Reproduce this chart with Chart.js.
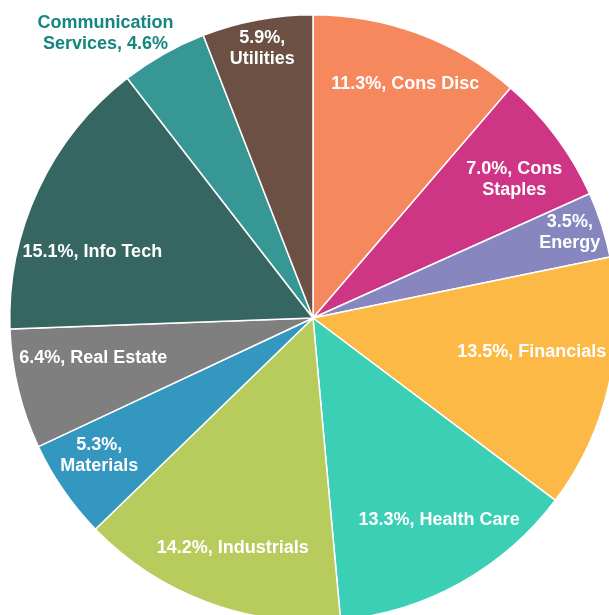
<!DOCTYPE html>
<html>
<head>
<meta charset="utf-8">
<script src="https://cdn.jsdelivr.net/npm/chart.js@4.4.1/dist/chart.umd.min.js"></script>
<style>
    html, body { margin: 0; padding: 0; background: #fff; overflow: hidden; }
    body { width: 609px; height: 615px; position: relative; }
    #wrap { position: absolute; left: 0; top: 0; width: 626px; height: 636px; }
</style>
</head>
<body>
<div id="wrap"><canvas id="sectorPie"></canvas></div>
<script>
    // sector weights, clockwise from 12 o'clock
    const sectors = ["Cons Disc", "Cons Staples", "Energy", "Financials", "Health Care", "Industrials",
        "Materials", "Real Estate", "Info Tech", "Communication Services", "Utilities"]
    const weights = [11.3, 7.0, 3.5, 13.5, 13.3, 14.2, 5.3, 6.4, 15.1, 4.6, 5.9]
    const sliceColors = ['#F5895D', '#CF3585', '#8886BE', '#FDB945', '#3BCFB6', '#B8CC5E',
        '#3497C0', '#7F7F7F', '#366661', '#369795', '#6D5044']

    // label text lines (as in the picture)
    const labelLines = [
        ["11.3%, Cons Disc"],
        ["7.0%, Cons", "Staples"],
        ["3.5%,", "Energy"],
        ["13.5%, Financials"],
        ["13.3%, Health Care"],
        ["14.2%, Industrials"],
        ["5.3%,", "Materials"],
        ["6.4%, Real Estate"],
        ["15.1%, Info Tech"],
        ["Communication", "Services, 4.6%"],
        ["5.9%,", "Utilities"]
    ]
    // nudges from the default spot (80% of the radius on the mid angle)
    const labelNudge = [[8, -6], [7, 7], [26, -11], [-18, -19], [8, -10], [4, 3],
        [-14, 0], [16, -17], [-1, 37], [-88, -73], [-6, -31]]
    const labelColor = ['#fff', '#fff', '#fff', '#fff', '#fff', '#fff', '#fff', '#fff', '#fff', '#13867E', '#fff']

    const sliceLabels = {
        id: 'sliceLabels',
        afterDatasetsDraw(chart) {
            const ctx = chart.ctx
            const arcs = chart.getDatasetMeta(0).data
            ctx.save()
            ctx.font = 'bold 18px "Liberation Sans", Arial, sans-serif'
            ctx.textAlign = 'center'
            ctx.textBaseline = 'middle'
            arcs.forEach((arc, i) => {
                const mid = (arc.startAngle + arc.endAngle) / 2
                const r = arc.outerRadius * 0.8
                const x = arc.x + Math.cos(mid) * r + labelNudge[i][0]
                const y = arc.y + Math.sin(mid) * r + labelNudge[i][1]
                const lines = labelLines[i]
                ctx.fillStyle = labelColor[i]
                lines.forEach((t, k) => {
                    ctx.fillText(t, x, y + (k - (lines.length - 1) / 2) * 21)
                })
            })
            ctx.restore()
        }
    }

    new Chart("sectorPie", {
        type: 'pie',
        data: {
            labels: sectors,
            datasets: [{
                data: weights,
                backgroundColor: sliceColors,
                borderColor: '#fff',
                borderWidth: 1.5
            }]
        },
        options: {
            responsive: true,
            maintainAspectRatio: false,
            animation: false,
            layout: { padding: { left: 9, top: 14, right: 9, bottom: 14 } },
            plugins: {
                legend: { display: false },
                tooltip: { enabled: false }
            }
        },
        plugins: [sliceLabels]
    })
</script>
</body>
</html>
